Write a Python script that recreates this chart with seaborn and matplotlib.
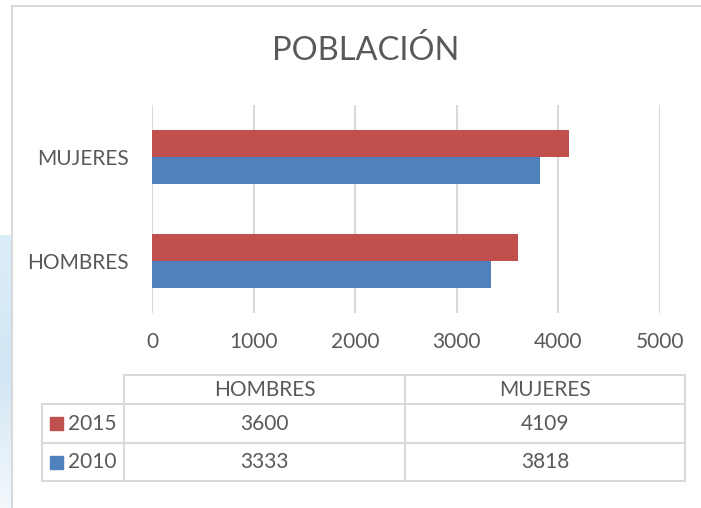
import numpy as np
import matplotlib
matplotlib.use("Agg")
import matplotlib.pyplot as plt
from matplotlib.lines import Line2D
from matplotlib.patches import Rectangle
import pandas as pd
import seaborn as sns

# ---- data ----
categories = ["MUJERES", "HOMBRES"]
table_order = ["HOMBRES", "MUJERES"]
series = ["2015", "2010"]
values_2015 = [4109, 3600]   # MUJERES, HOMBRES
values_2010 = [3818, 3333]
xticks = [0, 1000, 2000, 3000, 4000, 5000]
title = "POBLACIÓN"

colors = {"2015": "#C0504D", "2010": "#4F81BD"}
text_color = "#595959"
grid_color = "#D9D9D9"

sns.set_theme(style="white")
plt.rcParams["font.family"] = ["Lato", "DejaVu Sans"]

df = pd.DataFrame({
    "cat": categories * 2,
    "year": ["2015"] * 2 + ["2010"] * 2,
    "val": values_2015 + values_2010,
})

W, H = 701, 508
fig = plt.figure(figsize=(W / 100, H / 100), dpi=100)

def fx(px):
    return px / W

def fy(py):
    return 1 - py / H

# watermark strip on the left
bg = fig.add_axes([0, 0, fx(12), 1 - 235 / H], zorder=-5)
grad = np.linspace(0, 1, 100).reshape(-1, 1)
bg.imshow(grad, aspect="auto", cmap=matplotlib.colors.LinearSegmentedColormap.from_list(
    "wm", ["#DCEEF9", "#D2E5F4", "#F3F8FC"]), extent=[0, 1, 0, 1])
bg.axis("off")

# chart border
fig.add_artist(Line2D([fx(12), 1], [fy(6), fy(6)], color=grid_color, lw=1.5))
fig.add_artist(Line2D([fx(12), fx(12)], [fy(6), 0], color=grid_color, lw=1.5))

# main axes
ax = fig.add_axes([fx(152), fy(313), fx(660) - fx(152), (313 - 105) / H])
sns.barplot(data=df, y="cat", x="val", hue="year", order=categories,
            hue_order=series, palette=colors, orient="h", width=0.51,
            saturation=1, ax=ax, legend=False)
ax.set_xlim(0, 5000)
ax.set_ylim(1.5, -0.5)
ax.set_xticks(xticks)
ax.set_xticklabels([str(t) for t in xticks])
ax.xaxis.grid(True, color=grid_color, lw=1.5)
ax.set_axisbelow(True)
for s in ax.spines.values():
    s.set_visible(False)
ax.tick_params(axis="x", length=0, pad=14, labelsize=15, colors=text_color)
ax.tick_params(axis="y", length=0, pad=17, labelsize=15, colors=text_color)
ax.set_xlabel("")
ax.set_ylabel("")
for p in ax.patches:
    p.set_edgecolor("none")

# title
fig.text(fx(366), fy(50), title, ha="center", va="center", fontsize=23.5, color=text_color)

# data table
lw = 1.5
tc = grid_color
x_lab, x_c0, x_c1, x_c2 = 42, 124, 405, 685
y_top, y_h, y_r1, y_r2 = 375, 404, 443, 481
# horizontal lines
fig.add_artist(Line2D([fx(x_c0), fx(x_c2)], [fy(y_top)] * 2, color=tc, lw=lw))
for yy in (y_h, y_r1, y_r2):
    fig.add_artist(Line2D([fx(x_lab), fx(x_c2)], [fy(yy)] * 2, color=tc, lw=lw))
# vertical lines
fig.add_artist(Line2D([fx(x_lab)] * 2, [fy(y_h), fy(y_r2)], color=tc, lw=lw))
for xx in (x_c0, x_c1, x_c2):
    fig.add_artist(Line2D([fx(xx)] * 2, [fy(y_top), fy(y_r2)], color=tc, lw=lw))

cols_x = [(x_c0 + x_c1) / 2, (x_c1 + x_c2) / 2]
for cx, name in zip(cols_x, table_order):
    fig.text(fx(cx), fy((y_top + y_h) / 2), name, ha="center", va="center",
             fontsize=15, color=text_color)

row_vals = {
    "2015": dict(zip(categories, values_2015)),
    "2010": dict(zip(categories, values_2010)),
}
for (y0, y1), yr in zip([(y_h, y_r1), (y_r1, y_r2)], series):
    cy = (y0 + y1) / 2
    fig.patches.append(Rectangle((fx(50), fy(cy + 6.5)), fx(13), 13 / H,
                                 transform=fig.transFigure, color=colors[yr]))
    fig.text(fx(68), fy(cy), yr, ha="left", va="center", fontsize=15, color=text_color)
    for cx, name in zip(cols_x, table_order):
        fig.text(fx(cx), fy(cy), str(row_vals[yr][name]), ha="center", va="center",
                 fontsize=15, color=text_color)

fig.savefig("out.png", dpi=100, facecolor="white")
